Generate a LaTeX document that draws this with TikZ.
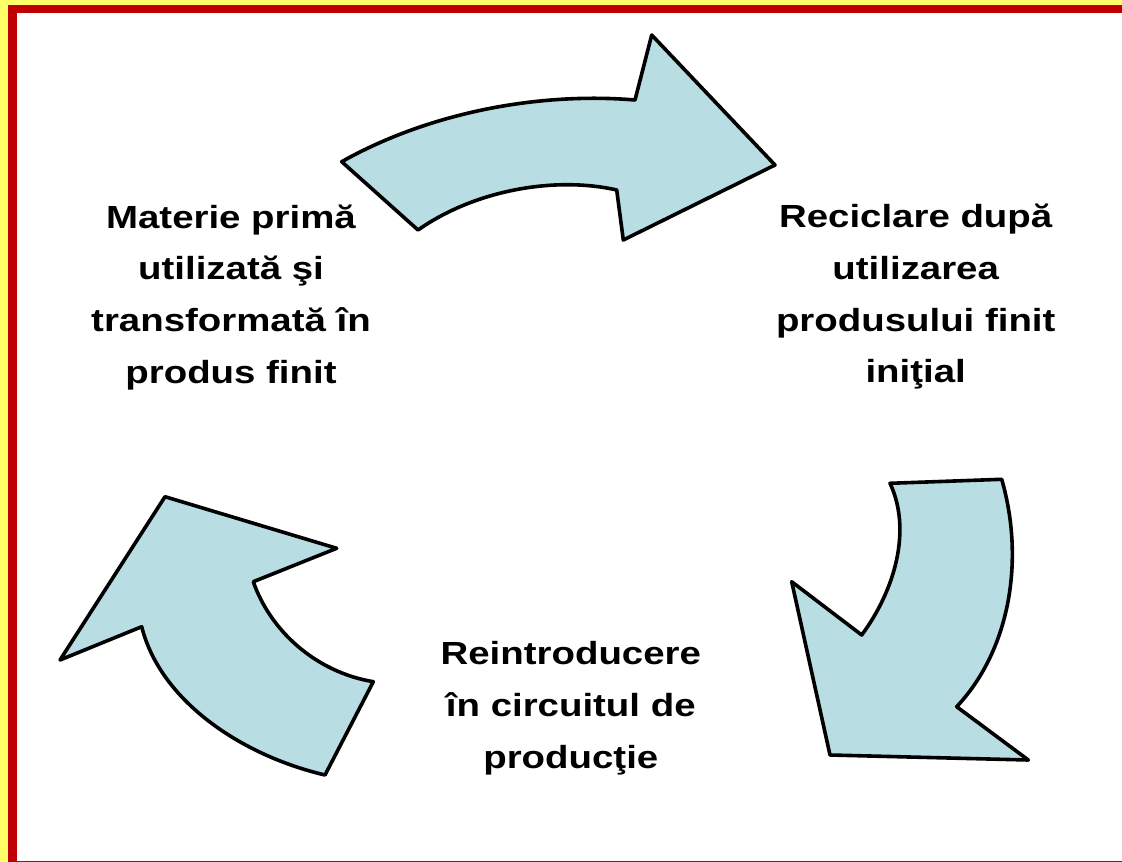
\documentclass[tikz,border=0pt]{standalone}
\usepackage{fontspec}
\setmainfont{Liberation Sans}[FakeStretch=1.2]
\definecolor{arrowfill}{HTML}{B8DDE2}
\definecolor{frameyellow}{HTML}{FFFF66}
\definecolor{framered}{HTML}{C00000}
\begin{document}
\begin{tikzpicture}[x=1pt,y=-1pt,
  cyclearrow/.style={draw=black,line width=3.6pt,fill=arrowfill,line join=round},
  label/.style={align=center,inner sep=0pt,anchor=base,font=\fontsize{32}{51.7}\selectfont\bfseries}]
\useasboundingbox (0,0) rectangle (1122,862);
\fill[white] (0,0) rectangle (1122,862);
% frame
\fill[frameyellow] (0,0) rectangle (8.3,862);
\fill[frameyellow] (0,0) rectangle (1122,5);
\fill[framered] (8.3,5) rectangle (16.7,862);
\fill[framered] (8.3,5) rectangle (1122,12.7);
\fill[framered] (8.3,860.7) rectangle (1122,862);
% arrows
\draw[cyclearrow] (341.7,161.7) .. controls (430,112) and (540,92) .. (635,100)
  -- (651.7,35) -- (775,165) -- (623.3,240) -- (616.7,190)
  .. controls (555,176) and (475,190) .. (418,230) -- cycle;
\draw[cyclearrow] (890,483.3) -- (1001.7,479.3)
  .. controls (1025,560) and (1010,650) .. (956.7,706.7)
  -- (1028.3,760) -- (830,755) -- (791.7,581.7) -- (861.7,635)
  .. controls (895,590) and (912,530) .. (890,483.3) -- cycle;
\draw[cyclearrow] (165,496.7) -- (336.7,548.3) -- (253.3,581.7)
  .. controls (270,630) and (315,672) .. (373.3,681.7)
  -- (325,775) .. controls (240,755) and (160,700) .. (141.7,626.7)
  -- (60,660) -- cycle;
% labels (anchor = baseline of last line)
\node[label] (raw) at (231,383.3) {Materie primă\\utilizată şi\\transformată în\\produs finit};
\node[label] (recycle) at (915.7,382.7) {Reciclare după\\utilizarea\\produsului finit\\iniţial};
\node[label] (reintro) at (570.8,768) {Reintroducere\\în circuitul de\\producţie};
\end{tikzpicture}
\end{document}
